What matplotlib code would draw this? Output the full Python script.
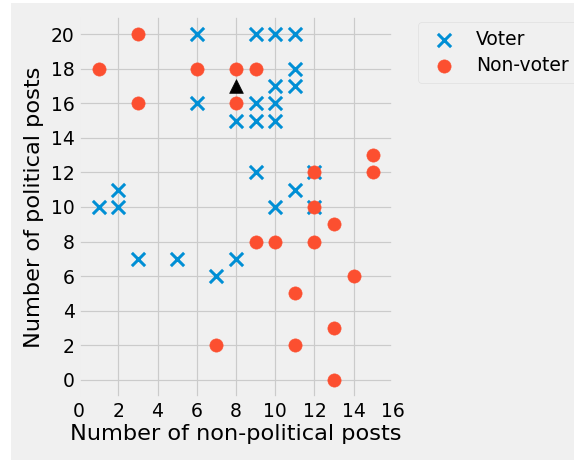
"""
Voters vs non-voters by posting behaviour, with one new point to classify.
"""

import matplotlib
matplotlib.use("Agg")
import matplotlib.pyplot as plt
from matplotlib.patches import Rectangle

plt.style.use("fivethirtyeight")

# voters (non-political, political)
voter_x = [6, 9, 10, 11, 11, 10, 11, 6, 9, 10, 8, 9, 10, 9, 12, 2, 11, 1, 2, 10, 12, 3, 5, 8, 7]
voter_y = [20, 20, 20, 20, 18, 17, 17, 16, 16, 16, 15, 15, 15, 12, 12, 11, 11, 10, 10, 10, 10, 7, 7, 7, 6]

# non-voters
nonvoter_x = [3, 1, 6, 8, 9, 3, 8, 12, 15, 15, 12, 13, 9, 10, 12, 14, 11, 13, 7, 11, 13]
nonvoter_y = [20, 18, 18, 18, 18, 16, 16, 12, 13, 12, 10, 9, 8, 8, 8, 6, 5, 3, 2, 2, 0]

# the unlabelled point
new_x = [8]
new_y = [17]

dpi = 87
W, H = 574, 460
fig = plt.figure(figsize=(W / dpi, H / dpi), dpi=dpi)
ax = fig.add_axes([79 / W, 62 / H, 314 / W, 382 / H])

ax.scatter(voter_x, voter_y, marker='x', s=120, linewidths=2.5,
           color='#008fd5', label='Voter')
ax.scatter(nonvoter_x, nonvoter_y, marker='o', s=120,
           color='#fc4f30', label='Non-voter')
ax.scatter(new_x, new_y, marker='^', s=130, color='black')

ax.set_xticks(range(0, 17, 2))
ax.set_yticks(range(0, 21, 2))
ax.set_xlim(0, 16)
ax.set_ylim(-1.05, 21.05)
ax.tick_params(labelsize=15.5)

ax.set_xlabel('Number of non-political posts', fontsize=18.6, labelpad=2)
ax.set_ylabel('Number of political posts', fontsize=18.6, labelpad=6)

# legend sits to the right of the axes, partly cut by the figure edge
leg = ax.legend(loc='upper left', bbox_to_anchor=(1 + 25 / 314, 0.984),
                borderaxespad=0, frameon=True, fontsize=15.5,
                handletextpad=0.7, borderpad=0.4, labelspacing=0.4)
leg.get_frame().set_facecolor('#f0f0f0')
leg.get_frame().set_edgecolor('#d8d8d8')

# white margin of the screenshot on the left and top
fig.patches.append(Rectangle((0, 0), 11 / W, 1, transform=fig.transFigure,
                             facecolor='white', linewidth=0, zorder=-1))
fig.patches.append(Rectangle((0, 1 - 3 / H), 1, 3 / H, transform=fig.transFigure,
                             facecolor='white', linewidth=0, zorder=-1))

fig.savefig('out.png', dpi=dpi)
